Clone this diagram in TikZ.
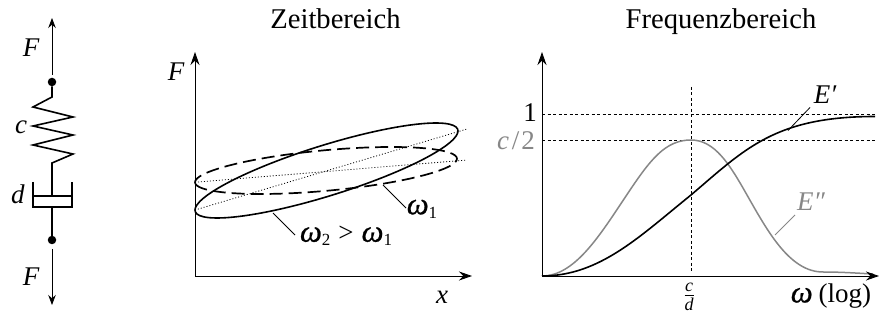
\documentclass[tikz,border=0pt]{standalone}
\usepackage{fontspec}
\setmainfont{Liberation Serif}
\newfontface\omfont[FakeBold=0.7]{Liberation Serif Italic}
\usetikzlibrary{arrows.meta}
\definecolor{curvegray}{gray}{0.53}
\newcommand{\lbl}{\fontsize{27}{29}\selectfont}
\newcommand{\ttl}{\fontsize{28.6}{30}\selectfont}
\newcommand{\subnum}[1]{\raisebox{-4pt}{\fontsize{17}{17}\selectfont\upshape #1}}
\newcommand{\omg}{{\fontsize{31}{31}\selectfont\omfont ω}}
\tikzset{
  txt/.style={inner sep=0pt,font=\lbl},
  ttlnode/.style={inner sep=0pt,font=\ttl,anchor=base},
  thick line/.style={line width=1.6pt,line join=miter},
  thin line/.style={line width=0.8pt},
  arr/.style={thin line,-{Stealth[length=10pt,width=7.5pt]}},
  axisline/.style={line width=0.9pt,-{Stealth[length=13pt,width=9pt]}},
  dotnode/.style={circle,fill=black,inner sep=0pt,minimum size=8.5pt},
  guide/.style={line width=0.8pt,dash pattern=on 3pt off 2.5pt},
  dot line/.style={line width=0.8pt,dash pattern=on 1pt off 2pt},
  ell dash/.style={line width=1.7pt,dash pattern=on 13pt off 6pt},
}
\begin{document}
\begin{tikzpicture}[x=1pt,y=-1pt]
\useasboundingbox (0,0) rectangle (879,320);
% titles
\node[ttlnode] (t1) at (335.5,29) {Zeitbereich};
\node[ttlnode] (t2) at (721,29) {Frequenzbereich};
% spring damper
\node[dotnode] (topdot) at (52,82) {};
\node[dotnode] (botdot) at (52,240) {};
\coordinate (fu) at (52,18);
\coordinate (fus) at (52,75);
\coordinate (fd) at (52,305);
\coordinate (fds) at (52,249);
\draw[arr] (fus) -- (fu);
\draw[arr] (fds) -- (fd);
\node[txt] (Fa) at (31,48) {\itshape F};
\node[txt] (Fb) at (31,277) {\itshape F};
\coordinate (sp0) at (52,97);
\coordinate (sp1) at (52,163);
\draw[thick line] (topdot) -- (sp0) -- (33,107) -- (73,117) -- (33,126) -- (73,135) -- (33,145) -- (73,154) -- (sp1) -- (52,196);
\draw[thick line] (33,182) -- (33,207) -- (72,207) -- (72,182);
\draw[thick line] (33,196) -- (72,196);
\coordinate (dampb) at (52,207);
\draw[thick line] (dampb) -- (botdot);
\node[txt] (cl) at (21,127) {\itshape c};
\node[txt] (dl) at (18,194) {\itshape d};
% hysteresis axes
\coordinate (o1) at (195,276);
\coordinate (y1) at (195,52);
\coordinate (x1) at (472,276);
\draw[axisline] (o1) -- (y1);
\draw[axisline] (o1) -- (x1);
\node[txt] (F1) at (176,72) {\itshape F};
\node[txt] (x1l) at (442,297) {\itshape x};
\draw[dot line] (195,210) -- (467,129);
\draw[dot line] (198,182) -- (467,160);
\draw[ell dash] plot[smooth cycle,samples=72,domain=0:355,variable=\t] ({326-131*cos(\t)},{170.5+23.5*cos(\t-60)});
\draw[thick line] plot[smooth cycle,samples=72,domain=0:355,variable=\t] ({326.5-131.5*cos(\t)},{170.5+47.5*cos(\t-33.7)});
\node[txt] (w1) at (422,209) {\omg\subnum{1}};
\node[txt] (w2) at (346,236) {\omg\subnum{2}\hspace{8pt}\upshape\textgreater\hspace{8pt}\omg\subnum{1}};
\coordinate (w1a) at (383,185);
\coordinate (w1b) at (406,208);
\coordinate (w2a) at (273,213);
\coordinate (w2b) at (295,235);
\draw[thin line] (w1a) -- (w1b);
\draw[thin line] (w2a) -- (w2b);
% frequency axes
\coordinate (o2) at (542,276);
\coordinate (y2) at (542,52);
\coordinate (x2) at (879,276);
\draw[guide] (542,114) -- (875,114);
\draw[guide] (542,140) -- (875,140);
\draw[guide] (691,87) -- (691,273);
\draw[line width=1.5pt,curvegray] (542,276) .. controls (575,276) and (600,235) .. (626.7,195) .. controls (650,160) and (665,140) .. (691,140) .. controls (715,140) and (730,165) .. (747,195) .. controls (768,232) and (790,272) .. (823,272) .. controls (840,272) and (855,273) .. (873,274);
\draw[thick line] (542,276) .. controls (600,276) and (640,236) .. (691,195) .. controls (745,149) and (775,116.5) .. (875,116.5);
\coordinate (ea) at (788,130.5);
\coordinate (eb) at (810,107.5);
\coordinate (fa) at (775,235);
\coordinate (fb) at (795,215);
\draw[thin line] (ea) -- (eb);
\draw[thin line,curvegray] (fa) -- (fb);
\draw[axisline] (o2) -- (y2);
\draw[axisline] (o2) -- (x2);
\node[txt] (el) at (825,95) {\itshape E′};
\node[txt,text=curvegray] (ell) at (811,202) {\itshape E″};
\node[txt] (one) at (530,113) {1};
\node[txt,text=curvegray] (c2) at (516,141) {\itshape c\hspace{3pt}\upshape/\hspace{2pt}\upshape 2};
\node[txt] (cd) at (689,297) {$\frac{\mbox{\fontsize{18}{18}\selectfont\itshape c}}{\mbox{\fontsize{18}{18}\selectfont\itshape d}}$};
\node[txt] (wl) at (831,296) {\omg\hspace{6pt}\upshape (log)};
\end{tikzpicture}
\end{document}
